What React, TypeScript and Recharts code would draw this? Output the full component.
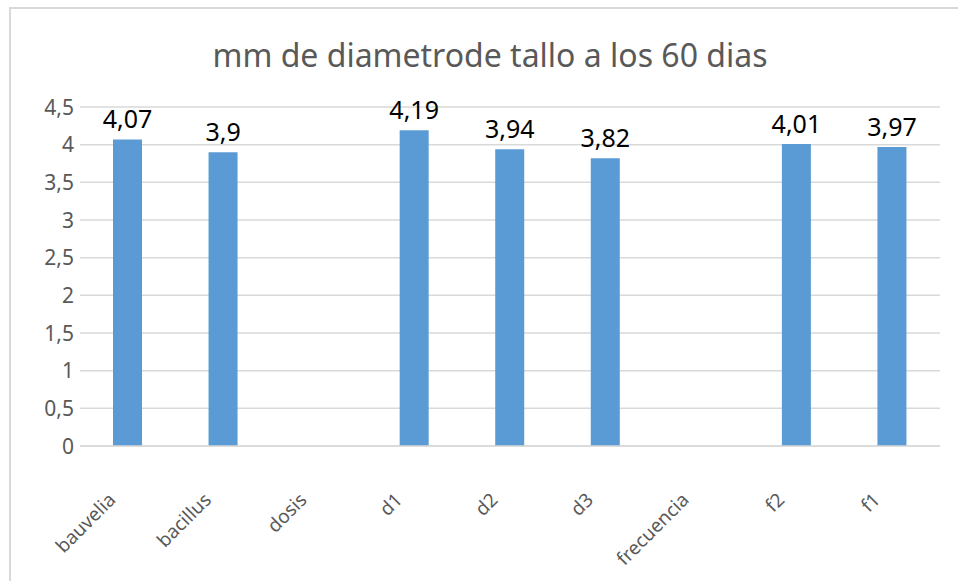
import React from 'react';
import { BarChart, Bar, XAxis, YAxis, CartesianGrid, LabelList } from 'recharts';

const categories = ['bauvelia', 'bacillus', 'dosis', 'd1', 'd2', 'd3', 'frecuencia', 'f2', 'f1'];
const values: (number | null)[] = [4.07, 3.9, null, 4.19, 3.94, 3.82, null, 4.01, 3.97];
const yTicks = [0, 0.5, 1, 1.5, 2, 2.5, 3, 3.5, 4, 4.5];
const title = 'mm de diametrode tallo a los 60 dias';

const data = categories.map((c, i) => ({ name: c, value: values[i] }));

const fmt = (v: any) => (v === null || v === undefined ? '' : String(v).replace('.', ','));

const FONT = "'Noto Sans', 'Open Sans', sans-serif";

const XTick = (props: any) => {
  const { x, y, payload } = props;
  return (
    <g transform={`translate(${x - 11},${y + 47})`}>
      <text
        x={0}
        y={0}
        textAnchor="end"
        transform="rotate(-45)"
        style={{ fill: '#595959', fontSize: 19, fontFamily: FONT }}
      >
        {payload.value}
      </text>
    </g>
  );
};

const YTick = (props: any) => {
  const { x, y, payload } = props;
  return (
    <text
      x={x + 2}
      y={y}
      dy={7.5}
      textAnchor="end"
      style={{ fill: '#595959', fontSize: 21, fontFamily: FONT }}
    >
      {fmt(payload.value)}
    </text>
  );
};

const ValueLabel = (props: any) => {
  const { x, y, width, value } = props;
  if (value === null || value === undefined) return null;
  return (
    <text
      x={x + width / 2}
      y={y - 11}
      textAnchor="middle"
      style={{ fill: '#000', fontSize: 25, fontFamily: FONT }}
    >
      {fmt(value)}
    </text>
  );
};

export default function App() {
  return (
    <div style={{ position: 'absolute', left: 0, top: 0, width: 958, height: 581, background: '#fff', overflow: 'hidden' }}>
      <div
        style={{
          position: 'absolute',
          left: 9,
          top: 7,
          width: 1000,
          height: 600,
          borderTop: '2px solid #d9d9d9',
          borderLeft: '2px solid #d9d9d9',
          boxSizing: 'border-box',
        }}
      />
      <div
        style={{
          position: 'absolute',
          left: 0,
          top: 33,
          width: 980,
          textAlign: 'center',
          fontFamily: FONT,
          fontSize: 32,
          color: '#595959',
          lineHeight: '44px',
        }}
      >
        {title}
      </div>
      <div style={{ position: 'absolute', left: 0, top: 0 }}>
        <BarChart
          width={958}
          height={581}
          data={data}
          margin={{ top: 107, right: 18, bottom: 35, left: 10 }}
        >
          <CartesianGrid vertical={false} stroke="#d9d9d9" strokeWidth={1.5} />
          <XAxis
            dataKey="name"
            height={100}
            tickLine={false}
            axisLine={{ stroke: '#d9d9d9', strokeWidth: 1.5 }}
            tick={<XTick />}
            interval={0}
          />
          <YAxis
            width={70}
            domain={[0, 4.5]}
            ticks={yTicks}
            axisLine={false}
            tickLine={false}
            tick={<YTick />}
          />
          <Bar dataKey="value" fill="#5b9bd5" barSize={29} isAnimationActive={false}>
            <LabelList dataKey="value" content={<ValueLabel />} />
          </Bar>
        </BarChart>
      </div>
    </div>
  );
}
